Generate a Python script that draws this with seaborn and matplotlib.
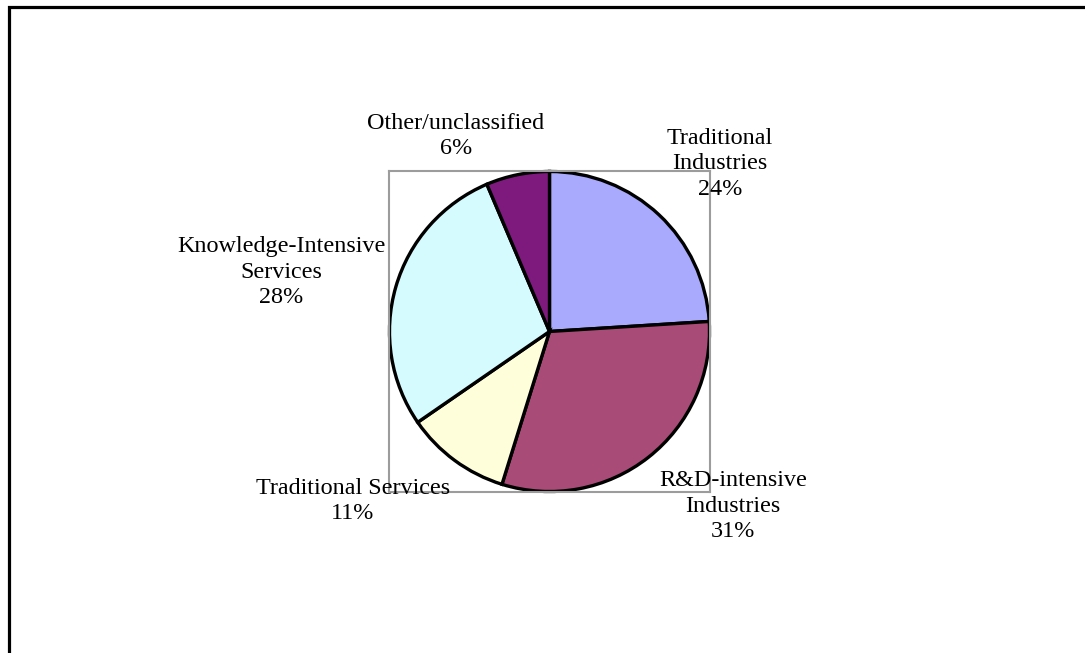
import matplotlib
matplotlib.use("Agg")
import matplotlib.pyplot as plt
import matplotlib.patches as mpatches
import seaborn as sns

sns.set_theme(style="white")
plt.rcParams['font.family'] = ['Liberation Serif', 'DejaVu Serif']

categories = ["Traditional\nIndustries", "R&D-intensive\nIndustries", "Traditional Services",
              "Knowledge-Intensive\nServices", "Other/unclassified"]
values = [24.0, 30.8, 10.6, 28.2, 6.4]
colors = ["#A9AAFE", "#A84B76", "#FEFEDA", "#D5FBFE", "#7E1A7E"]

W, H = 1085, 653
fig = plt.figure(figsize=(W / 100, H / 100), dpi=100)

def px(x, y):
    return x / W, 1 - y / H

# pie axes (gray frame)
left, top, right, bottom = 389, 171, 710, 492
ax = fig.add_axes([left / W, 1 - bottom / H, (right - left) / W, (bottom - top) / H])
wedges, _ = ax.pie(values, colors=colors, startangle=90, counterclock=False,
                   wedgeprops=dict(edgecolor="black", linewidth=2.4), frame=True)
ax.set_xlim(-1.003, 1.003)
ax.set_ylim(-1.003, 1.003)
ax.set_xticks([])
ax.set_yticks([])
for s in ax.spines.values():
    s.set_color("#9C9C9C")
    s.set_linewidth(1.5)

# labels
total = sum(values)
label_pos = [(720, 164), (733, 506), (353, 501), (281, 272), (456, 136)]
for cat, v, (x, y) in zip(categories, values, label_pos):
    fx, fy = px(x, y)
    fig.text(fx, fy, f"{cat}\n{round(v / total * 100):d}%", ha="center", va="center",
             fontsize=17.4, linespacing=1.3, color="black")

# outer chart border (only top/left visible)
border = mpatches.Rectangle(px(8.5, 700), (1200) / W, (700 - 6.5) / H,
                            transform=fig.transFigure, fill=False,
                            edgecolor="black", linewidth=2.3, clip_on=False)
fig.patches.append(border)

fig.savefig("out.png", dpi=100)
